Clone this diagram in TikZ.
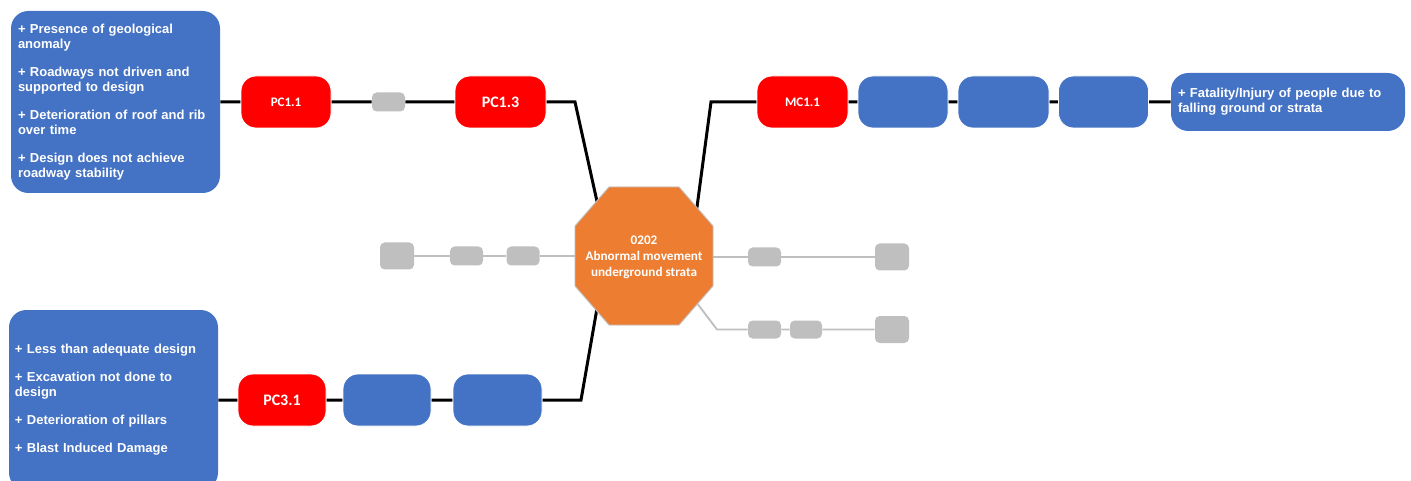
\documentclass[tikz,border=0pt]{standalone}
\usepackage{fontspec}
\setmainfont{Liberation Sans}
\newfontfamily\calfont{Carlito}
\definecolor{blueC}{HTML}{4472C4}
\definecolor{redC}{HTML}{FF0000}
\definecolor{orangeC}{HTML}{ED7D31}
\definecolor{grayC}{HTML}{BFBFBF}
\pgfdeclarelayer{back}
\pgfsetlayers{back,main}
\begin{document}
\begin{tikzpicture}[x=0.75pt,y=-0.75pt,
  sz/.style 2 args={minimum width=#1*0.75pt, minimum height=#2*0.75pt},
  rbase/.style={inner sep=0pt, rounded corners=11.25pt, draw=white, line width=0.6pt},
  redbox/.style={rbase, fill=redC, text=white, font=\calfont\bfseries\fontsize{9.75}{11}\selectfont},
  bigred/.style={redbox, font=\calfont\bfseries\fontsize{12}{14}\selectfont},
  bluebox/.style={rbase, fill=blueC},
  graybox/.style={inner sep=0pt, rounded corners=3.5pt, fill=grayC},
  listbox/.style={fill=blueC, rounded corners=13pt, text=white, align=left,
    font=\bfseries\fontsize{9.75}{11.25}\selectfont, inner ysep=0pt},
  conn/.style={line width=2.25pt, black},
  gconn/.style={line width=1.4pt, grayC},
  octo/.style={fill=orangeC, draw=grayC, line width=0.7pt},
  octtext/.style={text=white, align=center, font=\calfont\bfseries\fontsize{9.9}{12}\selectfont}
]
\useasboundingbox (0,0) rectangle (1411,481);

% list boxes
\node[listbox, sz={209}{182}, inner xsep=5.25pt, text width=146.25pt] (L1) at (115.5,102)
  {+ Presence of geological\\anomaly\\[9.75pt]+ Roadways not driven and\\supported to design\\[9.75pt]+ Deterioration of roof and rib\\over time\\[9.75pt]+ Design does not achieve\\roadway stability};
\node[listbox, sz={209}{180}, inner xsep=4.5pt, text width=147.75pt] (L2) at (113.5,400)
  {+ Less than adequate design\\[9.75pt]+ Excavation not done to\\design\\[9.75pt]+ Deterioration of pillars\\[9.75pt]+ Blast Induced Damage};
\node[listbox, sz={234}{58}, inner xsep=5.25pt, text width=165pt] (R) at (1288,102)
  {+ Fatality/Injury of people due to\\falling ground or strata};

% top-left chain
\node[redbox, sz={90}{52}] (PC11) at (286,102) {PC1.1};
\node[graybox, sz={33}{19}] (G1) at (388.5,102) {};
\node[bigred, sz={91}{52}] (PC13) at (500.5,102) {PC1.3};

% top-right chain
\node[redbox, sz={91}{52}] (MC11) at (802.5,102) {MC1.1};
\node[bluebox, sz={90}{52}] (B1) at (903,102) {};
\node[bluebox, sz={91}{52}] (B2) at (1003.5,102) {};
\node[bluebox, sz={90}{52}] (B3) at (1103.5,102) {};

% bottom-left chain
\node[bigred, sz={88}{52}] (PC31) at (282,400) {PC3.1};
\node[bluebox, sz={88}{52}] (B4) at (387,400) {};
\node[bluebox, sz={89}{52}] (B5) at (497.5,400) {};

% grey boxes
\node[graybox, sz={34}{27}] (GL1) at (397,256) {};
\node[graybox, sz={33}{19}] (GL2) at (466.5,256) {};
\node[graybox, sz={33}{19}] (GL3) at (523,256) {};
\node[graybox, sz={33}{19}] (GR1) at (764.5,257) {};
\node[graybox, sz={34}{27}] (GR2) at (892,257) {};
\node[graybox, sz={33}{18}] (GR3) at (764.5,329.5) {};
\node[graybox, sz={32}{18}] (GR4) at (806,329.5) {};
\node[graybox, sz={34}{27}] (GR5) at (892,329.5) {};

% central octagon
\draw[octo] (609,187) -- (679,187) -- (713,226) -- (713,286) -- (679,325)
  -- (609,325) -- (575,286) -- (575,226) -- cycle;
\node[octtext] (oct) at (644,257) {0202\\Abnormal movement\\underground strata};

% attachment points
\coordinate (c1) at (575,102);
\coordinate (c2) at (711,102);
\coordinate (c3) at (581,400);
\coordinate (c4) at (717,329.5);
\coordinate (oA) at (600,215);
\coordinate (oB) at (695,222);
\coordinate (oC) at (599,297);
\coordinate (oD) at (590,256);
\coordinate (oE) at (700,257);
\coordinate (oF) at (687,290);

\begin{pgfonlayer}{back}
\draw[conn] (L1) -- (PC11) -- (G1) -- (PC13) -- (c1) -- (oA);
\draw[conn] (oB) -- (c2) -- (MC11) -- (B1) -- (B2) -- (B3) -- (R);
\draw[conn] (L2) -- (PC31) -- (B4) -- (B5) -- (c3) -- (oC);
\draw[gconn] (GL1) -- (GL2) -- (GL3) -- (oD);
\draw[gconn] (oE) -- (GR1) -- (GR2);
\draw[gconn] (oF) -- (c4) -- (GR3) -- (GR4) -- (GR5);
\end{pgfonlayer}
\end{tikzpicture}
\end{document}
